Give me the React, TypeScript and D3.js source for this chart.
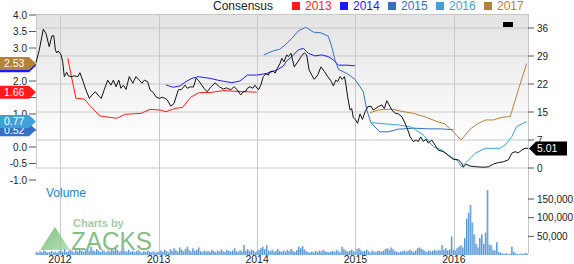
import React from "react";
import * as d3 from "d3";

// ---------- DATA ----------
const priceSeries: [string, number][] = [
  ["2011-10-04", 27.1], ["2011-10-16", 30.3], ["2011-10-31", 35.7], ["2011-11-10", 34.6],
  ["2011-11-22", 31.2], ["2011-12-02", 34.0], ["2011-12-09", 34.0], ["2011-12-15", 30.3],
  ["2011-12-20", 29.6], ["2011-12-25", 30.1], ["2012-01-05", 29.1], ["2012-01-11", 27.3],
  ["2012-01-17", 23.5], ["2012-01-26", 24.6], ["2012-02-01", 23.7], ["2012-02-11", 23.5],
  ["2012-02-23", 23.7], ["2012-03-07", 23.5], ["2012-03-15", 24.5], ["2012-03-25", 22.6],
  ["2012-04-06", 20.1], ["2012-04-19", 17.9], ["2012-04-29", 18.8], ["2012-05-11", 19.6],
  ["2012-05-24", 18.5], ["2012-06-02", 17.9], ["2012-06-13", 20.1], ["2012-06-26", 22.6],
  ["2012-07-08", 21.3], ["2012-07-17", 22.6], ["2012-07-27", 20.9], ["2012-08-06", 22.6],
  ["2012-08-14", 20.5], ["2012-08-23", 21.3], ["2012-09-02", 20.2], ["2012-09-14", 23.5],
  ["2012-09-27", 21.8], ["2012-10-09", 23.5], ["2012-10-21", 22.6], ["2012-10-31", 21.8],
  ["2012-11-09", 22.6], ["2012-11-21", 22.2], ["2012-11-30", 20.1], ["2012-12-12", 19.4],
  ["2012-12-22", 18.3], ["2013-01-03", 17.9], ["2013-01-14", 18.2], ["2013-01-25", 17.9],
  ["2013-02-02", 17.5], ["2013-02-15", 15.9], ["2013-02-27", 16.6], ["2013-03-15", 20.1],
  ["2013-03-27", 20.2], ["2013-04-09", 21.3], ["2013-04-17", 20.5], ["2013-04-30", 20.9],
  ["2013-05-10", 20.8], ["2013-05-20", 23.1], ["2013-05-28", 22.6], ["2013-06-10", 21.3],
  ["2013-06-18", 20.5], ["2013-06-30", 19.6], ["2013-07-13", 20.8], ["2013-07-29", 21.9],
  ["2013-08-14", 20.9], ["2013-08-29", 20.3], ["2013-09-10", 20.6], ["2013-09-25", 20.1],
  ["2013-10-08", 20.9], ["2013-10-20", 20.1], ["2013-11-01", 18.8], ["2013-11-11", 19.6],
  ["2013-11-21", 19.8], ["2013-11-26", 20.5], ["2013-12-06", 20.9], ["2013-12-16", 20.5],
  ["2013-12-24", 21.3], ["2014-01-06", 20.1], ["2014-01-15", 21.3], ["2014-01-24", 23.5],
  ["2014-02-03", 24.2], ["2014-02-12", 23.9], ["2014-02-18", 24.8], ["2014-03-02", 24.9],
  ["2014-03-09", 24.4], ["2014-03-17", 25.6], ["2014-03-27", 26.9], ["2014-04-03", 28.2],
  ["2014-04-11", 27.3], ["2014-04-21", 29.1], ["2014-04-27", 28.6], ["2014-05-07", 29.5],
  ["2014-05-19", 26.0], ["2014-06-01", 27.3], ["2014-06-13", 28.6], ["2014-06-25", 29.6],
  ["2014-07-04", 29.1], ["2014-07-13", 25.2], ["2014-07-23", 23.9], ["2014-08-01", 22.8],
  ["2014-08-14", 23.9], ["2014-08-26", 26.0], ["2014-09-08", 24.8], ["2014-09-20", 23.5],
  ["2014-10-02", 22.4], ["2014-10-11", 21.1], ["2014-10-20", 22.6], ["2014-10-27", 22.2],
  ["2014-11-05", 23.5], ["2014-11-13", 22.8], ["2014-11-21", 23.5], ["2014-11-26", 21.8],
  ["2014-12-03", 18.3], ["2014-12-12", 14.9], ["2014-12-18", 15.3], ["2014-12-24", 13.0],
  ["2015-01-02", 12.3], ["2015-01-09", 11.5], ["2015-01-18", 13.9], ["2015-01-27", 12.5],
  ["2015-02-06", 14.5], ["2015-02-16", 15.8], ["2015-02-28", 15.9], ["2015-03-08", 14.9],
  ["2015-03-17", 15.3], ["2015-03-27", 15.8], ["2015-04-09", 16.2], ["2015-04-18", 15.3],
  ["2015-04-27", 17.3], ["2015-05-06", 16.2], ["2015-05-16", 14.9], ["2015-05-28", 14.1],
  ["2015-06-09", 13.9], ["2015-06-22", 13.2], ["2015-07-04", 11.5], ["2015-07-14", 9.8],
  ["2015-07-23", 8.0], ["2015-08-04", 6.8], ["2015-08-14", 7.2], ["2015-08-22", 6.8],
  ["2015-08-31", 8.0], ["2015-09-10", 6.8], ["2015-09-20", 7.4], ["2015-09-28", 6.4],
  ["2015-10-11", 7.2], ["2015-10-23", 5.9], ["2015-11-04", 4.6], ["2015-11-23", 4.2],
  ["2015-12-11", 3.3], ["2015-12-30", 2.2], ["2016-01-18", 2.1], ["2016-01-30", 1.2],
  ["2016-02-05", 0.2], ["2016-02-15", 1.0], ["2016-03-01", 0.5], ["2016-03-26", 0.3],
  ["2016-04-19", 0.2], ["2016-05-08", 0.3], ["2016-05-27", 1.0], ["2016-06-14", 1.4],
  ["2016-07-03", 1.6], ["2016-07-21", 2.1], ["2016-08-03", 3.8], ["2016-08-15", 4.2],
  ["2016-08-27", 3.9], ["2016-09-09", 4.6], ["2016-09-21", 5.1], ["2016-10-02", 5.01],
];

const eps2013: [string, number][] = [
  ["2012-01-30", 2.69], ["2012-02-15", 2.03], ["2012-02-29", 1.48], ["2012-03-31", 1.45],
  ["2012-04-25", 1.22], ["2012-05-28", 0.94], ["2012-07-29", 0.87], ["2012-08-30", 0.99],
  ["2012-10-28", 1.02], ["2012-11-30", 1.14], ["2013-01-06", 1.12], ["2013-01-28", 1.07],
  ["2013-03-03", 1.17], ["2013-03-31", 1.2], ["2013-04-30", 1.51], ["2013-06-01", 1.65],
  ["2013-07-11", 1.65], ["2013-08-29", 1.71], ["2013-10-30", 1.68], ["2013-12-31", 1.66],
];
const eps2014: [string, number][] = [
  ["2013-01-28", 1.88], ["2013-02-24", 1.81], ["2013-03-21", 1.85], ["2013-04-12", 1.98],
  ["2013-05-04", 2.08], ["2013-05-28", 2.13], ["2013-07-11", 2.08], ["2013-08-17", 2.01],
  ["2013-09-29", 1.95], ["2013-10-30", 2.0], ["2013-11-26", 2.18], ["2013-12-31", 2.18],
  ["2014-02-06", 2.23], ["2014-03-15", 2.33], ["2014-04-08", 2.45], ["2014-04-20", 2.6],
  ["2014-05-10", 2.74], ["2014-06-03", 2.94], ["2014-06-22", 2.99], ["2014-07-10", 2.84],
  ["2014-08-04", 2.76], ["2014-08-29", 2.79], ["2014-09-22", 2.74], ["2014-10-11", 2.64],
  ["2014-10-30", 2.48], ["2014-11-30", 2.48], ["2014-12-30", 2.46],
];
const eps2015: [string, number][] = [
  ["2014-01-26", 2.79], ["2014-03-04", 2.92], ["2014-03-25", 2.96], ["2014-04-15", 3.09],
  ["2014-05-10", 3.29], ["2014-06-03", 3.52], ["2014-07-01", 3.63], ["2014-07-29", 3.48],
  ["2014-08-26", 3.46], ["2014-09-22", 3.36], ["2014-10-05", 3.04], ["2014-10-17", 2.64],
  ["2014-10-30", 2.35], ["2014-11-30", 2.23], ["2014-12-30", 2.05], ["2015-01-30", 1.68],
  ["2015-02-12", 1.12], ["2015-02-28", 0.72], ["2015-04-02", 0.46], ["2015-05-03", 0.46],
  ["2015-06-09", 0.54], ["2015-08-04", 0.57], ["2015-09-30", 0.55], ["2015-11-15", 0.55],
  ["2015-12-31", 0.52],
];
const eps2016: [string, number][] = [
  ["2015-02-28", 0.74], ["2015-04-21", 0.70], ["2015-06-09", 0.67], ["2015-07-29", 0.60],
  ["2015-09-10", 0.36], ["2015-10-17", 0.01], ["2015-11-17", -0.09], ["2015-12-18", -0.29],
  ["2016-01-12", -0.39], ["2016-01-30", -0.6], ["2016-02-18", -0.45], ["2016-03-20", -0.19],
  ["2016-04-26", -0.04], ["2016-06-20", -0.04], ["2016-07-09", 0.06], ["2016-08-03", 0.31],
  ["2016-08-21", 0.62], ["2016-09-27", 0.77],
];
const eps2017: [string, number][] = [
  ["2015-02-24", 1.04], ["2015-03-27", 1.12], ["2015-05-16", 1.15], ["2015-06-22", 1.08],
  ["2015-08-04", 1.02], ["2015-09-22", 0.9], ["2015-10-30", 0.77], ["2015-11-29", 0.70],
  ["2015-12-30", 0.46], ["2016-01-28", 0.21], ["2016-03-01", 0.54], ["2016-04-01", 0.72],
  ["2016-04-29", 0.82], ["2016-05-27", 0.82], ["2016-06-27", 0.9], ["2016-07-28", 0.92],
  ["2016-08-27", 1.73], ["2016-09-27", 2.53],
];

// weekly volume (thousands), starting week of 2011-10-03
const volumeStart = "2011-10-03";
const volumes: number[] = [
  8, 6, 10, 7, 12, 9, 6, 8, 11, 7, 9, 6, 10,
  12, 9, 15, 8, 11, 14, 10, 7, 13, 9, 16, 11, 8,
  14, 18, 10, 22, 12, 9, 16, 11, 8, 13, 10, 7, 12,
  9, 15, 11, 20, 13, 8, 12, 17, 10, 9, 14, 8, 11,
  7, 10, 13, 9, 6, 11, 8, 12, 9, 7, 10, 6, 8,
  9, 12, 8, 14, 10, 7, 15, 11, 18, 12, 9, 20, 14,
  10, 16, 22, 13, 9, 18, 11, 14, 20, 10, 8, 12, 9,
  11, 8, 13, 10, 7, 12, 9, 15, 10, 8, 14, 11, 9,
  12, 18, 10, 8, 13, 9, 27, 11, 16, 10, 14, 12, 8,
  10, 14, 18, 22, 15, 26, 12, 10, 14, 9, 11, 16, 10,
  8, 12, 9, 14, 10, 16, 11, 8, 13, 22, 18, 24, 15,
  10, 8, 6, 9, 7, 11, 8, 12, 9, 14, 10, 8, 7,
  9, 11, 8, 13, 10, 7, 22, 15, 12, 9, 11, 14, 10,
  8, 16, 18, 12, 9, 11, 14, 10, 7, 12, 9, 8, 11,
  10, 9, 12, 16, 18, 13, 20, 15, 11, 8, 7, 9, 10,
  12, 9, 11, 14, 10, 8, 12, 18, 20, 16, 14, 10, 8,
  12, 9, 11, 14, 10, 13, 12, 26, 14, 18, 12, 15, 50,
  14, 12, 18, 22, 26, 20, 45, 97, 113, 134, 87, 55, 30,
  20, 45, 55, 30, 60, 174, 28, 26, 13, 12, 34, 8, 6,
  4, 3, 5, 2, 3, 22, 8, 4, 3, 2, 4, 3, 5, 4,
];

const epsTicks = [-1, -0.5, 0, 0.5, 1, 1.5, 2, 2.5, 3, 3.5, 4];
// labels at 2.5, 1.5 and 0.5 sit under the value tags in the reference
const epsTickLabels = ["-1.0", "-0.5", "0.0", "", "1.0", "", "2.0", "", "3.0", "3.5", "4.0"];
const priceTicks = [0, 7.2, 14.4, 21.6, 28.8, 36];
const priceTickLabels = ["0", "7", "15", "22", "29", "36"];
const volumeTicks = [50000, 100000, 150000];
const yearTicks = ["2012-01-01", "2013-01-01", "2014-01-01", "2015-01-01", "2016-01-01"];

const consensusNames = ["2013", "2014", "2015", "2016", "2017"];
const consensusColors = ["#ff1a1a", "#1a1aff", "#3570c4", "#3fa2d6", "#b5823c"];
const consensusData = [eps2013, eps2014, eps2015, eps2016, eps2017];
const lastPrice = 5.01;

// ---------- CHART ----------
const parse = d3.timeParse("%Y-%m-%d");
const FONT = "'Liberation Sans', Arial, sans-serif";

export default function App() {
  const L = 36, R = 528, TOP = 14, MID = 168, BOT = 254;
  const x = d3.scaleTime()
    .domain([parse("2011-10-04")!, parse("2016-10-02")!])
    .range([L, R]);
  const yEps = d3.scaleLinear().domain([-1, 4]).range([180, 15]);
  const yPrice = d3.scaleLinear().domain([0, 36]).range([MID, 28]);
  const yVol = d3.scaleLinear().domain([0, 150000]).range([255, 199]);

  const epsLine = d3.line<[string, number]>()
    .x((d) => x(parse(d[0])!))
    .y((d) => yEps(d[1]));
  const priceLine = d3.line<[string, number]>()
    .x((d) => x(parse(d[0])!))
    .y((d) => yPrice(d[1]));

  const v0 = parse(volumeStart)!;
  const bars = volumes.map((v, i) => ({
    x: x(d3.timeDay.offset(v0, i * 7)),
    v: v * 1000,
  }));

  const tagOrder = [1, 4, 0, 2, 3]; // hidden tags first
  const hiddenText = new Set([1]); // 2014 tag text is fully covered by 2017 tag
  const tag = (yc: number, h = 13) =>
    `M0,${yc - h / 2} H29 L36,${yc} L29,${yc + h / 2} H0 Z`;

  const legendX = [292, 340, 388, 436, 484];
  const pY = yPrice(lastPrice);

  return (
    <div style={{ position: "fixed", left: 0, top: 0 }}>
      <svg width={574} height={264} style={{ display: "block", fontFamily: FONT }}>
        <defs>
          <linearGradient id="bg" x1="0" y1="0" x2="0" y2="1">
            <stop offset="0" stopColor="#e3e3e3" />
            <stop offset="0.85" stopColor="#ffffff" />
            <stop offset="1" stopColor="#ffffff" />
          </linearGradient>
          <linearGradient id="tri" x1="0" y1="0" x2="1" y2="1">
            <stop offset="0" stopColor="#4caf50" />
            <stop offset="1" stopColor="#a5d6a7" />
          </linearGradient>
        </defs>
        <rect x={0} y={0} width={574} height={264} fill="#fff" />
        <rect x={L} y={TOP} width={R - L} height={MID - TOP} fill="url(#bg)" />

        {/* grid */}
        {priceTicks.map((t, i) => (
          <line key={"hg" + i} x1={L} x2={R} y1={yPrice(t)} y2={yPrice(t)} stroke="#c8c8c8" />
        ))}
        <line x1={L} x2={R} y1={TOP + 0.5} y2={TOP + 0.5} stroke="#c8c8c8" />
        {yearTicks.map((d) => (
          <line key={"vg" + d} x1={Math.round(x(parse(d)!)) + 0.5} x2={Math.round(x(parse(d)!)) + 0.5}
            y1={TOP} y2={BOT} stroke="#c8c8c8" />
        ))}
        <line x1={L + 0.5} x2={L + 0.5} y1={TOP} y2={MID} stroke="#c8c8c8" />
        <line x1={R + 0.5} x2={R + 0.5} y1={TOP} y2={BOT} stroke="#c8c8c8" />

        {/* watermark */}
        <g opacity={0.75}>
          <path d="M40,250 L55,227 L70,250 Z" fill="url(#tri)" />
          <text x={73} y={227} fontSize={11} fontWeight="bold" fill="#86bd86">Charts by</text>
          <text x={71} y={250} fontSize={25} fill="#5ea65e" textLength={81} lengthAdjust="spacingAndGlyphs">ZACKS</text>
        </g>

        {/* volume */}
        {bars.map((b, i) => (
          <g key={"b" + i}>
            <rect x={b.x} y={yVol(b.v)} width={1.9} height={yVol(0) - yVol(b.v)} fill="#a9cbea" />
            <rect x={b.x} y={yVol(b.v)} width={0.9} height={yVol(0) - yVol(b.v)} fill="#4d92d6" />
          </g>
        ))}
        <text x={46} y={197} fontSize={12} fill="#2a7fc2">Volume</text>

        {/* consensus lines */}
        {consensusData.map((s, i) => (
          <path key={"c" + i} d={epsLine(s)!} fill="none" stroke={consensusColors[i]} strokeWidth={1} />
        ))}
        {/* price line */}
        <path d={priceLine(priceSeries)!} fill="none" stroke="#111" strokeWidth={1} />

        {/* left axis */}
        {epsTicks.map((t, i) => (
          <g key={"et" + t}>
            <line x1={29} x2={L} y1={yEps(t)} y2={yEps(t)} stroke="#555" />
            {epsTickLabels[i] && (
              <text x={27} y={yEps(t)} dy="0.35em" textAnchor="end" fontSize={10} fill="#222">
                {epsTickLabels[i]}
              </text>
            )}
          </g>
        ))}
        {/* right axis */}
        {priceTicks.map((t, i) => (
          <g key={"pt" + i}>
            <line x1={R} x2={R + 6} y1={yPrice(t)} y2={yPrice(t)} stroke="#555" />
            <text x={R + 9} y={yPrice(t)} dy="0.35em" fontSize={10} fill="#222">{priceTickLabels[i]}</text>
          </g>
        ))}
        {volumeTicks.map((t) => (
          <g key={"vt" + t}>
            <line x1={R} x2={R + 6} y1={yVol(t)} y2={yVol(t)} stroke="#555" />
            <text x={R + 9} y={yVol(t)} dy="0.35em" fontSize={10} fill="#222">{d3.format(",")(t)}</text>
          </g>
        ))}
        {/* bottom axis */}
        {yearTicks.map((d) => (
          <text key={"yt" + d} x={x(parse(d)!)} y={263} textAnchor="middle" fontSize={10.5} fill="#222">
            {d.slice(0, 4)}
          </text>
        ))}

        {/* left value tags */}
        {tagOrder.map((i) => {
          const s = consensusData[i];
          const v = s[s.length - 1][1];
          const yc = yEps(v);
          return (
            <g key={"tag" + i}>
              <path d={tag(yc)} fill={consensusColors[i]} />
              {!hiddenText.has(i) && (
                <text x={4} y={yc} dy="0.36em" fontSize={10.5} fill="#fff">{d3.format(".2f")(v)}</text>
              )}
            </g>
          );
        })}

        {/* price tag */}
        <path d={`M${R + 1},${pY} L${R + 8},${pY - 7} H567 V${pY + 7} H${R + 8} Z`} fill="#000" />
        <text x={537} y={pY} dy="0.36em" fontSize={10.5} fill="#fff">{d3.format(".2f")(lastPrice)}</text>
        <rect x={503} y={22} width={10} height={5} fill="#000" />

        {/* legend */}
        <text x={213} y={10} fontSize={12} fill="#222">Consensus</text>
        {consensusNames.map((n, i) => (
          <g key={"lg" + n}>
            <rect x={legendX[i]} y={2} width={8} height={8} fill={consensusColors[i]} />
            <text x={legendX[i] + 13} y={10} fontSize={12} fill={consensusColors[i]}>{n}</text>
          </g>
        ))}
      </svg>
    </div>
  );
}
